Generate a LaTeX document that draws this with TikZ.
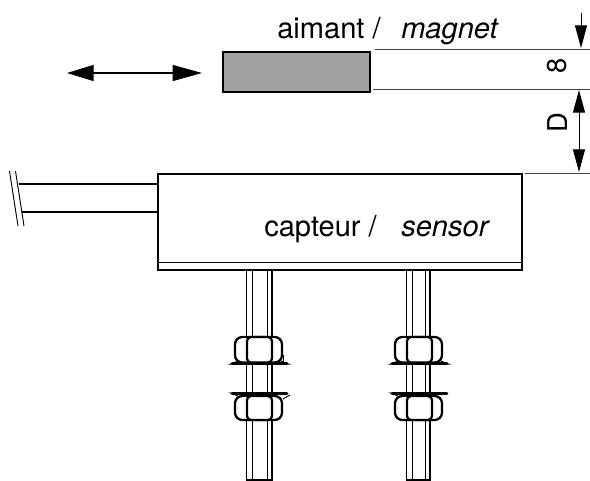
\documentclass[tikz,border=0pt]{standalone}
\usepackage{fontspec}
\setmainfont{TeX Gyre Heros}
\usetikzlibrary{arrows.meta}
\definecolor{magnetgray}{RGB}{160,160,160}
\tikzset{
  x=0.75pt,y=-0.75pt,
  thin line/.style={line width=0.85pt,black!75},
  hair/.style={line width=0.7pt,black},
  lbl/.style={inner sep=0pt,anchor=base west,font=\fontsize{21.8}{24}\selectfont},
  dimlbl/.style={inner sep=0pt,rotate=90,font=\fontsize{20.5}{24}\selectfont},
  nutouter/.style={line width=1.7pt,black,rounded corners=5.5pt,fill=white},
  nutinner/.style={line width=1.7pt,black,rounded corners=3pt,fill=white},
  washer/.style={line width=2.2pt,black,line cap=round},
}
\newcommand{\boltat}[4]{%
  \draw[line width=1.2pt] (#1,270) -- (#1,480) -- (#4,480) -- (#4,270);
  \draw[hair] (#2,270) -- (#2,480) (#3,270) -- (#3,480);
}
\newcommand{\nutat}[3]{%
  \begin{scope}[xshift=#1*0.75pt]
    \draw[nutouter] (235,#2) rectangle (282,#3);
    \draw[nutinner] (247,#2) rectangle (272,#3);
  \end{scope}
}
\begin{document}
\begin{tikzpicture}
\useasboundingbox (0,0) rectangle (590,480);
% bolts
\boltat{246.5}{252}{267}{272}
\boltat{406.5}{412}{425}{430}
% nuts
\nutat{0}{337}{362.5}
\nutat{0}{396}{420}
\nutat{160}{337}{362.5}
\nutat{160}{396}{420}
\foreach \xo in {0,160}{
  \draw[washer] (\xo+232,363.5) -- (\xo+287,363.5);
  \draw[washer] (\xo+232,393.5) -- (\xo+287,393.5);
  \fill (\xo+228,364.5) -- (\xo+238,360.5) -- (\xo+238,364.5) -- cycle;
  \fill (\xo+291,364.5) -- (\xo+281,360.5) -- (\xo+281,364.5) -- cycle;
  \fill (\xo+228,392.5) -- (\xo+238,392.5) -- (\xo+238,396.5) -- cycle;
}
\draw[hair] (283,362) -- (283,355);
\draw[hair] (283,399) -- (290,395);
% sensor
\draw[line width=1.5pt] (157.5,173.5) rectangle (522,270);
\draw[line width=1.1pt] (157.5,262.5) -- (522,262.5);
% cable
\draw[line width=1.5pt] (19,184) -- (157.5,184) (22,212) -- (157.5,212);
\draw[hair] (9.5,171) -- (18,226) (15.5,171) -- (24,226);
% magnet
\draw[line width=1.4pt,fill=magnetgray] (223,52) rectangle (370,92);
% dimension lines
\draw[thin line] (375,49.5) -- (590,49.5);
\draw[thin line] (373,89.5) -- (590,89.5);
\draw[thin line] (525,173.5) -- (590,173.5);
% arrows
\coordinate (mL) at (67,73);
\coordinate (mR) at (202,73);
\draw[line width=0.9pt,{Triangle[length=20pt,width=12pt]}-{Triangle[length=22pt,width=12pt]}] (mL) -- (mR);
\coordinate (s1) at (581,13);
\coordinate (s2) at (581,48);
\draw[line width=0.7pt,-{Triangle[length=17pt,width=9pt]}] (s1) -- (s2);
\coordinate (d1) at (579,90);
\coordinate (d2) at (579,172);
\draw[line width=0.7pt,{Triangle[length=17pt,width=9pt]}-{Triangle[length=17pt,width=9pt]}] (d1) -- (d2);
% labels
\node[lbl] (aimant) at (277,38) {aimant /};
\node[lbl] (magnet) at (401,38) {\itshape magnet};
\node[lbl] (capteur) at (264,236) {capteur /};
\node[lbl] (sensor) at (401,236) {\itshape sensor};
\node[dimlbl] (eight) at (557.5,66) {8};
\node[dimlbl] (dee) at (557.5,122.5) {D};
\end{tikzpicture}
\end{document}
